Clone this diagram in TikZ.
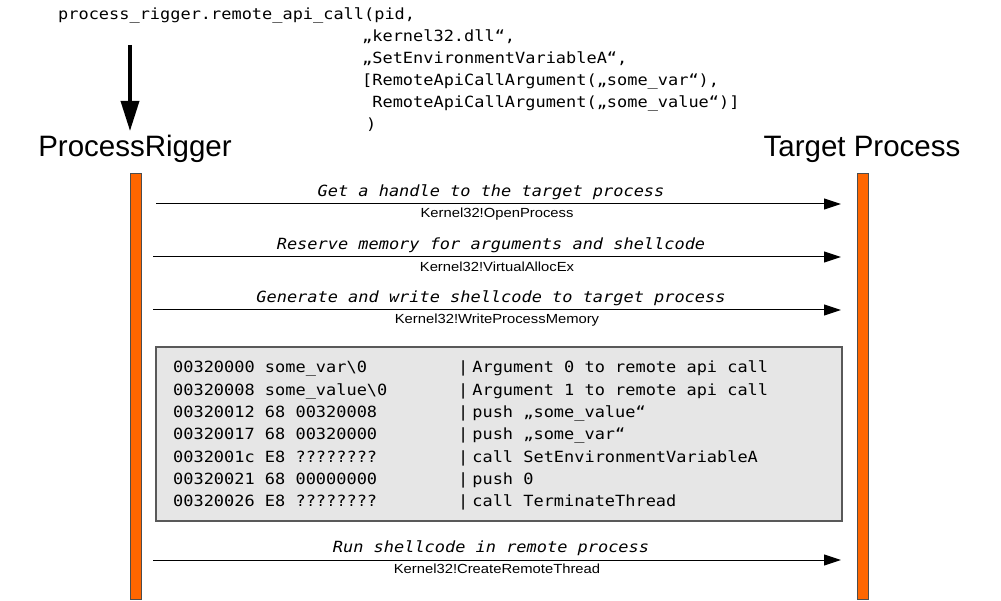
\documentclass[tikz,border=0pt]{standalone}
\usepackage{fontspec}
\setmainfont{Liberation Sans}
\newfontfamily\codefont[FakeStretch=1.1,ItalicFont={DejaVu Sans Mono Oblique}]{DejaVu Sans Mono}
\newfontfamily\lblfont[FakeStretch=1.12]{Liberation Sans}
\usetikzlibrary{arrows.meta}
\definecolor{lifeorange}{HTML}{FF6600}
\definecolor{lifeedge}{HTML}{4D4D4D}
\definecolor{boxfill}{HTML}{E6E6E6}
\definecolor{boxedge}{HTML}{595959}
\tikzset{
  code/.style={font=\codefont\fontsize{15.4}{18}\selectfont, inner sep=0pt, anchor=base west},
  msglabel/.style={font=\codefont\itshape\fontsize{15.4}{18}\selectfont, inner sep=0pt, anchor=base},
  apilabel/.style={font=\lblfont\fontsize{13.2}{15}\selectfont, inner sep=0pt, anchor=base},
  titletext/.style={font=\fontsize{29.5}{34}\selectfont, inner sep=0pt, anchor=base},
  lifeline/.style={draw=lifeedge, line width=0.8pt, fill=lifeorange, minimum width=11pt, minimum height=426pt, inner sep=0pt},
  codebox/.style={draw=boxedge, line width=1.2pt, fill=boxfill, minimum width=686pt, minimum height=174pt, inner sep=0pt},
  msg/.style={-{Triangle[length=17pt,width=11pt]}, line width=1pt},
  bigarrow/.style={-{Triangle[length=30pt,width=18pt]}, line width=3.5pt}
}
\begin{document}
\begin{tikzpicture}[x=1pt,y=-1pt]
\useasboundingbox (0,0) rectangle (1001,601);

% call code at the top
\node[code] (c0) at (58,20) {process\_rigger.remote\_api\_call(pid,};
\node[code] (c1) at (362,42) {„kernel32.dll“,};
\node[code] (c2) at (362,64) {„SetEnvironmentVariableA“,};
\node[code] (c3) at (362,86) {[RemoteApiCallArgument(„some\_var“),};
\node[code] (c4) at (372.2,108) {RemoteApiCallArgument(„some\_value“)]};
\node[code] (c5) at (366,129.5) {)};

% big arrow down to ProcessRigger
\coordinate (callfrom) at (130,45);
\coordinate (callto) at (130,131);
\draw[bigarrow] (callfrom) -- (callto);

% titles
\node[titletext] (rigger) at (135,157) {ProcessRigger};
\node[titletext] (target) at (862,157) {Target Process};

% lifelines
\node[lifeline] (lbar) at (135.5,386) {};
\node[lifeline] (rbar) at (862.5,386) {};

% messages
\coordinate (s1) at (156,204); \coordinate (e1) at (841,204);
\coordinate (s2) at (153,257); \coordinate (e2) at (841,257);
\coordinate (s3) at (153,310); \coordinate (e3) at (841,310);
\coordinate (s4) at (153,560); \coordinate (e4) at (841,560);
\draw[msg] (s1) -- (e1);
\draw[msg] (s2) -- (e2);
\draw[msg] (s3) -- (e3);
\draw[msg] (s4) -- (e4);

\node[msglabel] (m1) at (491,197) {Get a handle to the target process};
\node[apilabel] (k1) at (497,218) {Kernel32!OpenProcess};
\node[msglabel] (m2) at (491,250) {Reserve memory for arguments and shellcode};
\node[apilabel] (k2) at (497,271.5) {Kernel32!VirtualAllocEx};
\node[msglabel] (m3) at (491,303) {Generate and write shellcode to target process};
\node[apilabel] (k3) at (497,324) {Kernel32!WriteProcessMemory};
\node[msglabel] (m4) at (491,552) {Run shellcode in remote process};
\node[apilabel] (k4) at (497,573.5) {Kernel32!CreateRemoteThread};

% shellcode box
\node[codebox] (box) at (499,434) {};
\foreach \t [count=\i from 0] in {
  {00320000 some\_var\textbackslash 0},
  {00320008 some\_value\textbackslash 0},
  {00320012 68 00320008},
  {00320017 68 00320000},
  {0032001c E8 ????????},
  {00320021 68 00000000},
  {00320026 E8 ????????}}
  \node[code] (L\i) at (173,372.7+\i*22.33) {\t};
\foreach \t [count=\i from 0] in {
  {Argument 0 to remote api call},
  {Argument 1 to remote api call},
  {push „some\_value“},
  {push „some\_var“},
  {call SetEnvironmentVariableA},
  {push 0},
  {call TerminateThread}}
  \node[code] (R\i) at (458,372.7+\i*22.33) {|\hspace{4pt}\t};
\end{tikzpicture}
\end{document}
